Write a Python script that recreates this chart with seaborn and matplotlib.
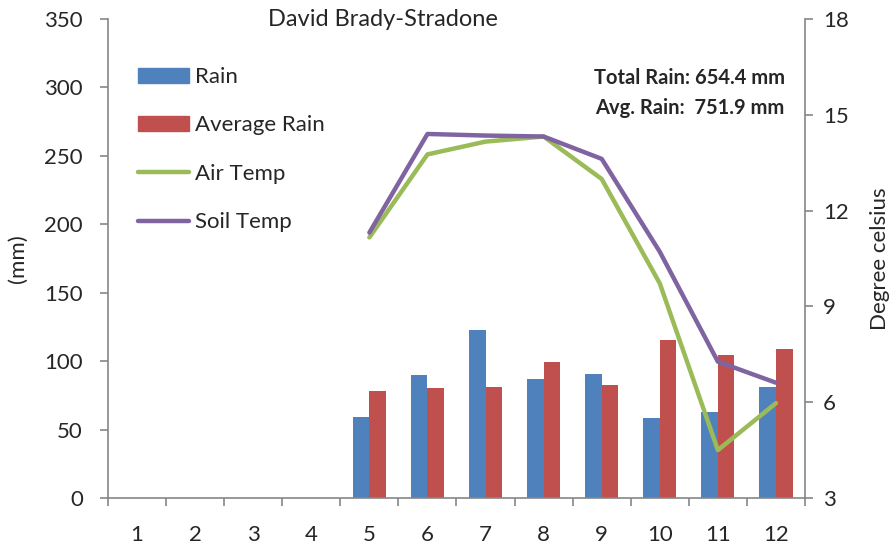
import matplotlib
matplotlib.use("Agg")
import matplotlib.pyplot as plt
import pandas as pd
import seaborn as sns
from matplotlib.patches import Patch
from matplotlib.lines import Line2D

months = list(range(1, 13))
rain_months = [5, 6, 7, 8, 9, 10, 11, 12]
rain = [59.0, 90.1, 122.5, 87.0, 90.8, 58.5, 63.1, 80.9]
avg_rain = [78.4, 80.1, 80.9, 99.1, 82.6, 115.4, 104.2, 108.9]
air_temp = [11.16, 13.76, 14.16, 14.32, 12.99, 9.72, 4.50, 5.97]
soil_temp = [11.31, 14.40, 14.35, 14.32, 13.62, 10.71, 7.27, 6.61]

blue = "#4F81BD"
red = "#C0504D"
green = "#9BBB59"
purple = "#8064A2"
grey = "#868686"

sns.set_style("white")
plt.rcParams["font.family"] = ["Lato", "DejaVu Sans"]
fs = 16

bars = pd.DataFrame({
    "month": rain_months * 2,
    "mm": rain + avg_rain,
    "series": ["Rain"] * len(rain) + ["Average Rain"] * len(avg_rain),
})

fig = plt.figure(figsize=(8.95, 5.48), dpi=100)
ax = fig.add_axes([108 / 895, 50 / 548, 697 / 895, 479 / 548])

sns.barplot(data=bars, x="month", y="mm", hue="series", order=months,
            palette=[blue, red], width=0.57, ax=ax, legend=False,
            saturation=1, edgecolor="none")

ax2 = ax.twinx()
pos = [m - 1 for m in rain_months]
sns.lineplot(x=pos, y=air_temp, color=green, lw=3.2, ax=ax2)
sns.lineplot(x=pos, y=soil_temp, color=purple, lw=3.2, ax=ax2)

ax.set_ylim(0, 350)
ax.set_yticks(range(0, 351, 50))
ax2.set_ylim(3, 18)
ax2.set_yticks([3, 6, 9, 12, 15, 18])
ax.set_xlim(-0.5, 11.5)

for a in (ax, ax2):
    for s in a.spines.values():
        s.set_visible(False)
ax.spines["left"].set_visible(True)
ax.spines["bottom"].set_visible(True)
ax2.spines["right"].set_visible(True)
for s in (ax.spines["left"], ax.spines["bottom"], ax2.spines["right"]):
    s.set_color(grey)
    s.set_linewidth(1.2)

ax.tick_params(axis="y", which="both", left=True, length=6, color=grey,
               width=1.2, labelsize=fs, pad=12)
ax2.tick_params(axis="y", right=True, length=6, color=grey, width=1.2,
                labelsize=fs, pad=7)
ax.tick_params(axis="x", bottom=False, labelsize=fs, pad=16)
ax.set_xticks(range(12))
ax.set_xticklabels([str(m) for m in months])
ax.set_xticks([i - 0.5 for i in range(13)], minor=True)
ax.tick_params(axis="x", which="minor", bottom=True, length=6, color=grey, width=1.2)

ax.set_xlabel("")
ax.set_ylabel("(mm)", fontsize=fs, labelpad=12)
ax2.set_ylabel("Degree celsius", fontsize=fs, labelpad=15)
ax.text(0.395, 1.0, "David Brady-Stradone", transform=ax.transAxes,
        ha="center", va="center", fontsize=17)

handles = [Patch(color=blue), Patch(color=red),
           Line2D([], [], color=green, lw=3.2), Line2D([], [], color=purple, lw=3.2)]
labels = ["Rain", "Average Rain", "Air Temp", "Soil Temp"]
ax.legend(handles, labels, loc="upper left", bbox_to_anchor=(0.043, 0.9),
          frameon=False, fontsize=16, labelspacing=1.28, handlelength=2.3,
          handleheight=0.65, handletextpad=0.25, borderpad=0, borderaxespad=0)

ax.text(0.971, 0.877, "Total Rain: 654.4 mm", transform=ax.transAxes,
        ha="right", va="center", fontsize=14.5, fontweight="bold")
ax.text(0.971, 0.814, "Avg. Rain:  751.9 mm", transform=ax.transAxes,
        ha="right", va="center", fontsize=14.5, fontweight="bold")

fig.savefig("out.png", dpi=100)
